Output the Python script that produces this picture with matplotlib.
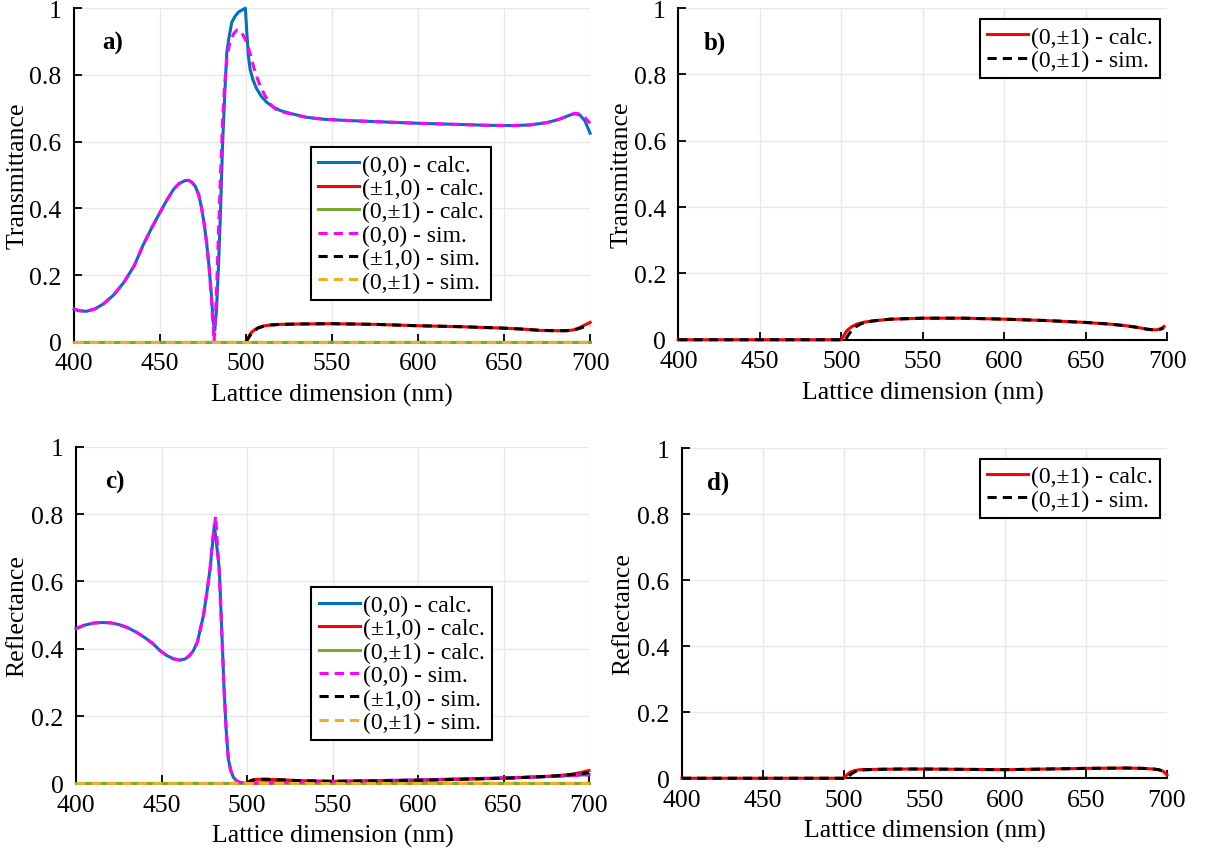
import matplotlib
matplotlib.use('Agg')
import matplotlib.pyplot as plt

plt.rcParams['font.family'] = ['Liberation Serif', 'DejaVu Serif']

# Colores estilo MATLAB
AZUL = '#0072BD'
ROJO = '#FF0000'
VERDE = '#77AC30'
MAGENTA = '#FF00FF'
NEGRO = '#000000'
NARANJA = '#EDB120'

# ========================
# a) Transmitancia
# ========================
x_a_00_calc = [400, 403, 407, 412, 417, 423, 429, 435, 440, 445, 450, 454, 458, 461, 464.5,
               466.5, 468.5, 470.5, 472.5, 474, 475.5, 477, 478.5, 480, 480.8, 481.8, 482.8,
               484, 485.2, 486.4, 487.6, 488.8, 490, 491.7, 493.5, 495.5, 497.5, 498.7,
               499.6, 500.4, 501.3, 502.3, 504, 506.2, 509, 512, 516, 520, 527, 535, 545,
               560, 580, 600, 620, 640, 655, 665, 675, 682, 688, 691, 694, 697, 700]
y_a_00_calc = [0.098, 0.093, 0.091, 0.098, 0.113, 0.140, 0.178, 0.228, 0.288, 0.340, 0.388,
               0.425, 0.458, 0.474, 0.483, 0.484, 0.478, 0.466, 0.440, 0.405, 0.358, 0.300,
               0.225, 0.130, 0.062, 0.035, 0.095, 0.230, 0.400, 0.600, 0.740, 0.868, 0.910,
               0.958, 0.975, 0.988, 0.994, 0.998, 1.000, 0.930, 0.860, 0.818, 0.785, 0.758,
               0.735, 0.718, 0.703, 0.693, 0.683, 0.673, 0.667, 0.663, 0.659, 0.655, 0.652,
               0.649, 0.648, 0.650, 0.657, 0.667, 0.679, 0.684, 0.680, 0.662, 0.625]

x_a_00_sim = [400, 403, 407, 412, 417, 423, 429, 435, 440, 445, 450, 454, 458, 461, 464.5,
              466.5, 468.5, 470.5, 472.5, 474, 475.5, 477, 478.5, 480, 481.4, 482.6, 484,
              485.3, 486.5, 487.7, 489, 491, 493, 494.8, 496.5, 498.2, 500.4, 502.3, 504.2,
              506, 508.1, 511, 514, 517, 520, 527, 535, 545, 560, 580, 600, 620, 640, 655,
              665, 675, 682, 688, 691, 694, 697, 700]
y_a_00_sim = [0.098, 0.093, 0.091, 0.098, 0.113, 0.140, 0.178, 0.228, 0.288, 0.340, 0.388,
              0.425, 0.458, 0.474, 0.483, 0.484, 0.478, 0.466, 0.440, 0.405, 0.358, 0.300,
              0.225, 0.120, 0.000, 0.120, 0.330, 0.520, 0.680, 0.780, 0.860, 0.905, 0.925,
              0.935, 0.933, 0.920, 0.898, 0.865, 0.828, 0.798, 0.768, 0.738, 0.713, 0.698,
              0.690, 0.682, 0.673, 0.667, 0.663, 0.659, 0.655, 0.652, 0.649, 0.648, 0.650,
              0.657, 0.667, 0.679, 0.685, 0.683, 0.672, 0.655]

x_a_10_calc = [500, 501.5, 503, 504.5, 507, 510, 514, 520, 530, 549, 575, 599, 625, 648,
               660, 671, 680, 686, 690, 692.5, 695, 698, 700]
y_a_10_calc = [0.000, 0.015, 0.027, 0.034, 0.042, 0.047, 0.050, 0.052, 0.053, 0.054, 0.052,
               0.048, 0.045, 0.041, 0.038, 0.034, 0.033, 0.033, 0.035, 0.039, 0.045, 0.053,
               0.058]

x_a_10_sim = [500, 501.5, 503, 504.5, 507, 510, 514, 520, 530, 549, 575, 599, 625, 648,
              660, 671, 680, 686, 690, 692.5, 695, 698, 700]
y_a_10_sim = [0.000, 0.012, 0.024, 0.032, 0.041, 0.046, 0.050, 0.052, 0.053, 0.054, 0.052,
              0.048, 0.045, 0.041, 0.038, 0.034, 0.033, 0.033, 0.035, 0.038, 0.042, 0.047,
              0.050]

x_a_01 = [400, 700]
y_a_01_calc = [0.0, 0.0]
y_a_01_sim = [0.0, 0.0]

# ========================
# b) Transmitancia (0,±1)
# ========================
x_b_calc = [400, 450, 500, 501, 503.3, 506, 509.4, 514, 519.6, 530, 550.3, 575, 600.4, 625,
            650.5, 665, 675, 682, 687.3, 691, 693.5, 696, 698]
y_b_calc = [0.000, 0.000, 0.000, 0.008, 0.027, 0.038, 0.047, 0.053, 0.057, 0.062, 0.065,
            0.065, 0.062, 0.058, 0.052, 0.047, 0.042, 0.037, 0.032, 0.030, 0.030, 0.033,
            0.040]

x_b_sim = [400, 450, 502.5, 504, 506, 508.4, 512, 516, 520, 530, 550.3, 575, 600.4, 625,
           650.5, 665, 675, 682, 687.3, 691, 693.5, 696, 698]
y_b_sim = [0.000, 0.000, 0.000, 0.012, 0.026, 0.038, 0.048, 0.054, 0.057, 0.062, 0.065,
           0.065, 0.062, 0.058, 0.052, 0.047, 0.042, 0.037, 0.032, 0.030, 0.030, 0.032,
           0.036]

# ========================
# c) Reflectancia
# ========================
x_c_00_calc = [400, 405, 410, 415, 420, 425, 430, 435, 440, 445, 449, 453, 457, 460.8, 464,
               466.5, 468.6, 471, 474.5, 476.5, 478.4, 479.8, 480.9, 482, 483.8, 485.2,
               486.5, 487.8, 489.1, 490.5, 492, 494, 496, 499, 505, 515, 530, 550, 575, 600,
               625, 650, 670, 685, 700]
y_c_00_calc = [0.460, 0.470, 0.476, 0.478, 0.477, 0.472, 0.463, 0.450, 0.434, 0.415, 0.395,
               0.380, 0.370, 0.366, 0.370, 0.380, 0.394, 0.420, 0.498, 0.565, 0.637, 0.710,
               0.768, 0.720, 0.637, 0.459, 0.290, 0.160, 0.072, 0.038, 0.018, 0.007, 0.003,
               0.000, 0.001, 0.002, 0.004, 0.005, 0.008, 0.010, 0.013, 0.016, 0.019, 0.022,
               0.026]

x_c_00_sim = [400, 405, 410, 415, 420, 425, 430, 435, 440, 445, 449, 453, 457, 460.8, 464,
              466.5, 468.6, 471, 474.5, 476.5, 478.4, 479.8, 481.7, 482.8, 483.8, 485.2,
              486.5, 487.8, 489.1, 490.5, 492, 494, 496, 499, 505, 515, 530, 550, 575, 600,
              625, 650, 670, 685, 700]
y_c_00_sim = [0.460, 0.470, 0.476, 0.478, 0.477, 0.472, 0.463, 0.450, 0.434, 0.415, 0.395,
              0.380, 0.370, 0.366, 0.370, 0.380, 0.394, 0.420, 0.498, 0.565, 0.637, 0.720,
              0.795, 0.700, 0.620, 0.459, 0.290, 0.160, 0.072, 0.038, 0.018, 0.007, 0.003,
              0.000, 0.000, 0.001, 0.003, 0.005, 0.008, 0.010, 0.013, 0.016, 0.019, 0.022,
              0.025]

x_c_10_calc = [500, 502, 504, 507, 511, 516, 522, 530, 540, 550, 575, 600, 625, 650, 665,
               680, 690, 696, 700]
y_c_10_calc = [0.000, 0.008, 0.011, 0.012, 0.012, 0.011, 0.010, 0.008, 0.007, 0.006, 0.007,
               0.009, 0.012, 0.015, 0.018, 0.022, 0.027, 0.033, 0.038]

x_c_10_sim = [500, 502, 504, 507, 511, 516, 522, 530, 540, 550, 575, 600, 625, 650, 665,
              680, 690, 696, 700]
y_c_10_sim = [0.000, 0.007, 0.010, 0.012, 0.012, 0.011, 0.010, 0.008, 0.007, 0.006, 0.007,
              0.009, 0.012, 0.015, 0.018, 0.022, 0.026, 0.029, 0.032]

x_c_01 = [400, 700]
y_c_01_calc = [0.0, 0.0]
y_c_01_sim = [0.0, 0.0]

# ========================
# d) Reflectancia (0,±1)
# ========================
x_d_calc = [400, 450, 500, 501.5, 503.9, 506.5, 510, 520, 535, 551, 575, 599.8, 625, 650.3,
            675, 685, 691.5, 695, 697.7, 699, 700]
y_d_calc = [0.000, 0.000, 0.000, 0.008, 0.018, 0.023, 0.026, 0.027, 0.028, 0.028, 0.027,
            0.026, 0.028, 0.030, 0.031, 0.030, 0.028, 0.026, 0.021, 0.015, 0.010]

x_d_sim = [400, 450, 502, 503.5, 505.5, 508, 511, 520, 535, 551, 575, 599.8, 625, 650.3,
           675, 685, 691.5, 695, 697.7, 699]
y_d_sim = [0.000, 0.000, 0.000, 0.008, 0.016, 0.022, 0.025, 0.027, 0.028, 0.028, 0.027,
           0.026, 0.028, 0.030, 0.031, 0.030, 0.028, 0.026, 0.021, 0.015]

rotulos_completos = ['(0,0) - calc.', '(\u00b11,0) - calc.', '(0,\u00b11) - calc.',
                     '(0,0) - sim.', '(\u00b11,0) - sim.', '(0,\u00b11) - sim.']
rotulos_b = ['(0,\u00b11) - calc.', '(0,\u00b11) - sim.']

LW = 2.2
DASH = (3.0, 2.0)
TAM = 18.5


def preparar_eixo(ax, ylabel, letra, ylab_x):
    ax.set_xlim(400, 700)
    ax.set_ylim(0, 1)
    ax.set_xticks([400, 450, 500, 550, 600, 650, 700])
    ax.set_yticks([0, 0.2, 0.4, 0.6, 0.8, 1])
    ax.set_yticklabels(['0', '0.2', '0.4', '0.6', '0.8', '1'])
    ax.grid(True, color='#e8e8e8', linewidth=1.0)
    ax.set_axisbelow(True)
    for lado in ['top', 'right']:
        ax.spines[lado].set_visible(False)
    for lado in ['left', 'bottom']:
        ax.spines[lado].set_linewidth(1.5)
        ax.spines[lado].set_zorder(1)
    ax.tick_params(direction='in', length=6, width=1.3, labelsize=TAM)
    ax.tick_params(axis='x', pad=7.5)
    ax.tick_params(axis='y', pad=9)
    ax.set_xlabel('Lattice dimension (nm)', fontsize=TAM, labelpad=6)
    ax.set_ylabel(ylabel, fontsize=TAM)
    ax.yaxis.set_label_coords(ylab_x, 0.5)
    ax.text(0.075, 0.898, letra, transform=ax.transAxes, fontsize=18,
            fontweight='bold', ha='center', va='center')


def legenda(ax, linhas, rotulos, canto):
    leg = ax.legend(linhas, rotulos, loc='upper left', bbox_to_anchor=canto,
                    borderaxespad=0, fontsize=17, handlelength=1.75,
                    handletextpad=0.12, labelspacing=0.08, borderpad=0.3,
                    fancybox=False, framealpha=1, edgecolor='black')
    leg.get_frame().set_linewidth(1.5)


def linha(ax, x, y, cor, tracejada=False):
    if tracejada:
        l, = ax.plot(x, y, color=cor, lw=LW, linestyle='--', dashes=DASH, clip_on=False)
    else:
        l, = ax.plot(x, y, color=cor, lw=LW, clip_on=False)
    return l


fig = plt.figure(figsize=(12.2, 8.54), dpi=100)

ax_a = fig.add_axes([0.0607, 0.5987, 0.4230, 0.3905])
ax_b = fig.add_axes([0.5560, 0.6010, 0.4008, 0.3884])
ax_c = fig.add_axes([0.0623, 0.0816, 0.4205, 0.3940])
ax_d = fig.add_axes([0.5590, 0.0875, 0.3975, 0.3864])

# a)
preparar_eixo(ax_a, 'Transmittance', 'a)', -0.089)
la = [linha(ax_a, x_a_00_calc, y_a_00_calc, AZUL),
      linha(ax_a, x_a_10_calc, y_a_10_calc, ROJO),
      linha(ax_a, x_a_01, y_a_01_calc, VERDE),
      linha(ax_a, x_a_00_sim, y_a_00_sim, MAGENTA, True),
      linha(ax_a, x_a_10_sim, y_a_10_sim, NEGRO, True),
      linha(ax_a, x_a_01, y_a_01_sim, NARANJA, True)]
legenda(ax_a, la, rotulos_completos, (0.459, 0.584))

# b)
preparar_eixo(ax_b, 'Transmittance', 'b)', -0.094)
lb = [linha(ax_b, x_b_calc, y_b_calc, ROJO),
      linha(ax_b, x_b_sim, y_b_sim, NEGRO, True)]
legenda(ax_b, lb, rotulos_b, (0.616, 0.967))

# c)
preparar_eixo(ax_c, 'Reflectance', 'c)', -0.094)
lc = [linha(ax_c, x_c_00_calc, y_c_00_calc, AZUL),
      linha(ax_c, x_c_10_calc, y_c_10_calc, ROJO),
      linha(ax_c, x_c_01, y_c_01_calc, VERDE),
      linha(ax_c, x_c_00_sim, y_c_00_sim, MAGENTA, True),
      linha(ax_c, x_c_10_sim, y_c_10_sim, NEGRO, True),
      linha(ax_c, x_c_01, y_c_01_sim, NARANJA, True)]
legenda(ax_c, lc, rotulos_completos, (0.459, 0.582))

# d)
preparar_eixo(ax_d, 'Reflectance', 'd)', -0.099)
ld = [linha(ax_d, x_d_calc, y_d_calc, ROJO),
      linha(ax_d, x_d_sim, y_d_sim, NEGRO, True)]
legenda(ax_d, ld, rotulos_b, (0.614, 0.969))

fig.savefig('out.png', dpi=100)
